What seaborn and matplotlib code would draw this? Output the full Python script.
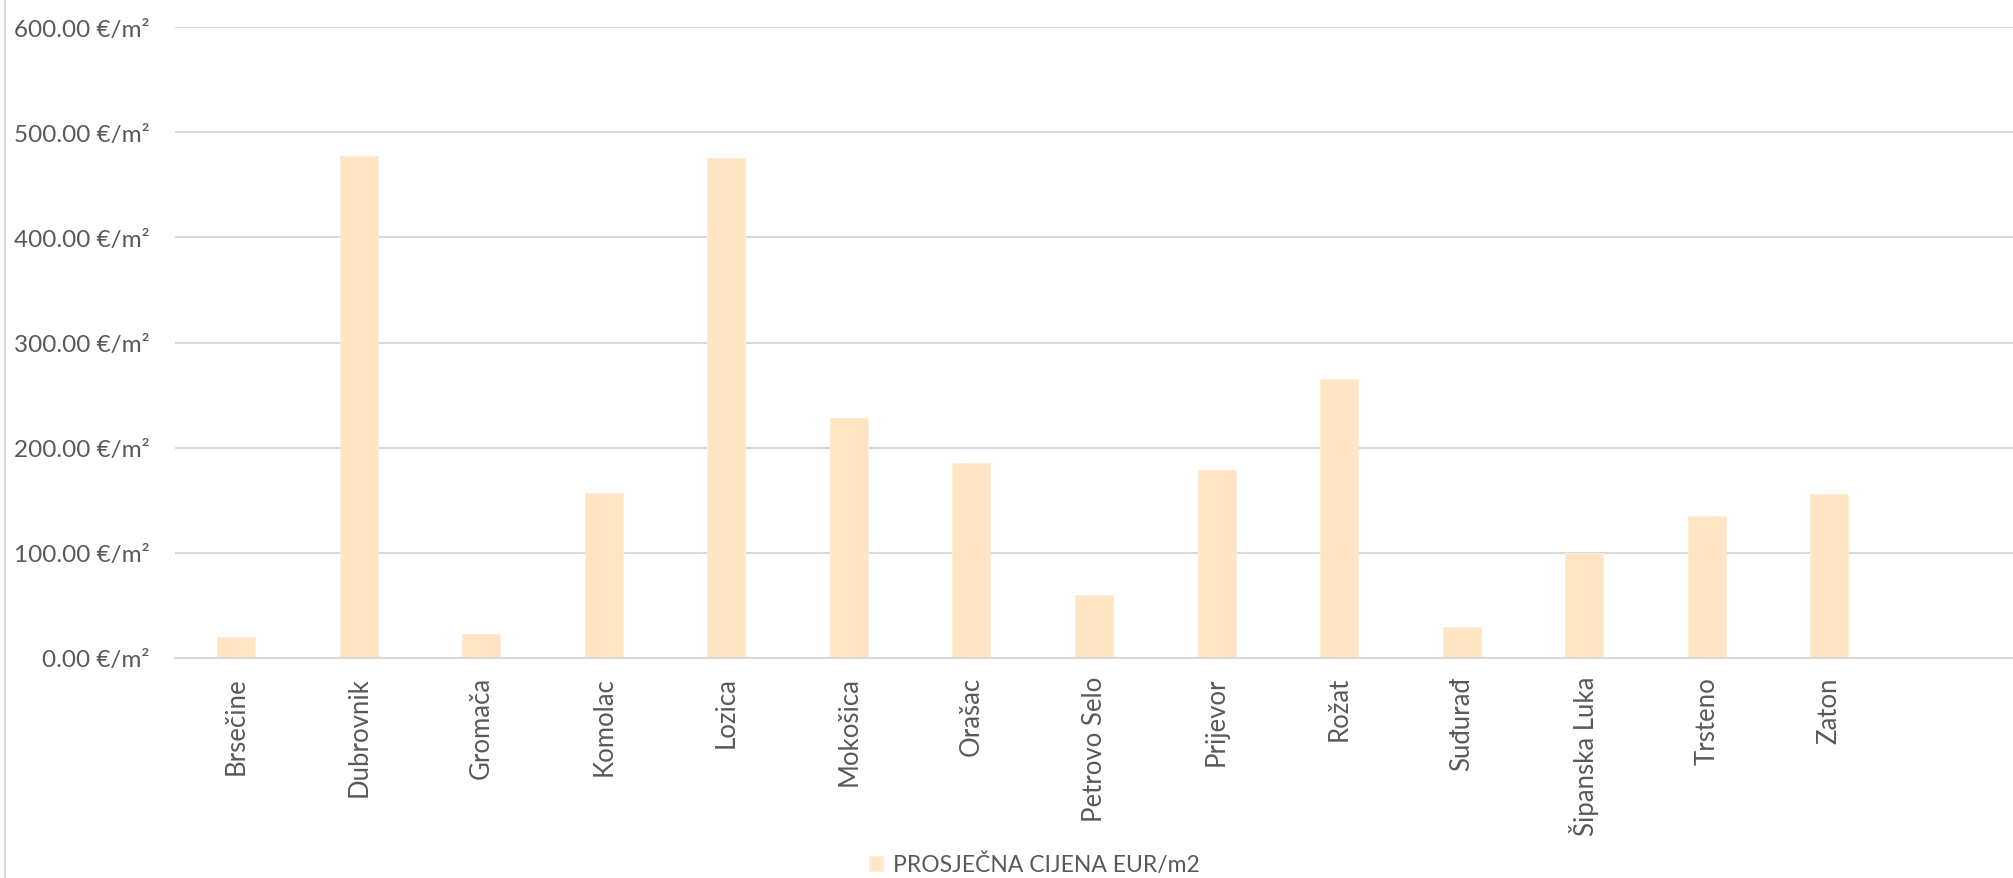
import matplotlib
matplotlib.use("Agg")
import matplotlib.pyplot as plt
from matplotlib.ticker import FuncFormatter, MultipleLocator
from matplotlib.lines import Line2D
import seaborn as sns
import pandas as pd

categories = ["Brsečine", "Dubrovnik", "Gromača", "Komolac", "Lozica", "Mokošica",
              "Orašac", "Petrovo Selo", "Prijevor", "Rožat", "Suđurađ",
              "Šipanska Luka", "Trsteno", "Zaton"]
prices = [20.0, 477.0, 22.7, 156.5, 475.5, 228.3, 185.7, 60.0, 178.5, 265.0,
          29.4, 99.8, 134.7, 156.2]
series_name = "PROSJEČNA CIJENA EUR/m2"

TEXT = "#595959"
GRID = "#D9D9D9"
BAR = "#FFE5C3"

sns.set_theme(style="white")
plt.rcParams["font.family"] = ["Lato", "DejaVu Sans"]

W, H = 2013, 879
fig = plt.figure(figsize=(W / 100, H / 100), dpi=100)
ax = fig.add_axes([175 / W, (H - 659) / H, (W - 175) / W, (659 - 28) / H])

df = pd.DataFrame({"loc": categories, "price": prices})
sns.barplot(data=df, x="loc", y="price", order=categories, color=BAR,
            saturation=1, width=0.31, label=series_name, ax=ax,
            edgecolor="#FFEFDA", linewidth=0.6)

ax.set_xlim(-0.5, len(categories) + 0.5)
ax.set_ylim(0, 600)
ax.yaxis.set_major_locator(MultipleLocator(100))
ax.yaxis.set_major_formatter(FuncFormatter(lambda v, p: f"{v:.2f} €/m²"))
ax.set_axisbelow(True)
ax.grid(axis="y", color=GRID, linewidth=1.5)
ax.grid(axis="x", visible=False)
for s in ["top", "right", "left"]:
    ax.spines[s].set_visible(False)
ax.spines["bottom"].set_color(GRID)
ax.spines["bottom"].set_linewidth(1.5)
ax.set_xlabel("")
ax.set_ylabel("")
ax.tick_params(axis="y", length=0, pad=18.5, labelsize=17.5, labelcolor=TEXT)
ax.tick_params(axis="x", length=0, pad=13, labelsize=18.5, labelcolor=TEXT)
for lbl in ax.get_xticklabels():
    lbl.set_rotation(90)
    lbl.set_ha("center")
    lbl.set_va("top")

leg = ax.legend(loc="center", bbox_to_anchor=(1034 / W, (H - 865) / H),
                bbox_transform=fig.transFigure, frameon=False, fontsize=16.5,
                handlelength=0.65, handleheight=0.65, handletextpad=0.4,
                labelcolor=TEXT)

fig.add_artist(Line2D([5 / W, 5 / W], [0, 1], transform=fig.transFigure,
                      color=GRID, linewidth=1.5))

fig.savefig("out.png", dpi=100, facecolor="white")
